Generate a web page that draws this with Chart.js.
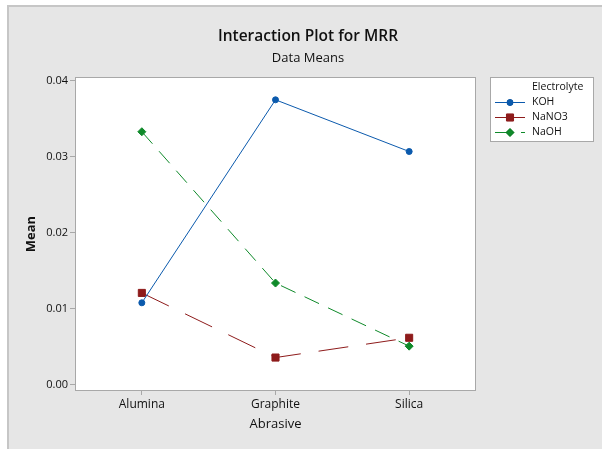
<!DOCTYPE html>
<html>
<head>
<meta charset="utf-8">
<script src="https://cdn.jsdelivr.net/npm/chart.js@4"></script>
<style>
    html, body { margin: 0; padding: 0; background: #fff; }
    #wrap { width: 602px; height: 449px; }
</style>
</head>
<body>
<div id="wrap"><canvas id="mrr-chart" width="602" height="449"></canvas></div>
<script>
// Data
const abrasives = ['Alumina', 'Graphite', 'Silica'];
const kohMeans = [0.0108, 0.0375, 0.0307];
const nano3Means = [0.0121, 0.0036, 0.0062];
const naohMeans = [0.0333, 0.0134, 0.0051];
const yTicks = [0.00, 0.01, 0.02, 0.03, 0.04];

const FONT = '"Open Sans", "DejaVu Sans", sans-serif';

const series = [
    { label: 'KOH', data: kohMeans, color: '#0b5aad', point: 'circle', radius: 3, dash: [] },
    { label: 'NaNO3', data: nano3Means, color: '#8e1b1b', point: 'rect', radius: 5, dash: [30, 18] },
    { label: 'NaOH', data: naohMeans, color: '#0f8a2a', point: 'rectRot', radius: 4, dash: [16, 10] },
];

// panel background, plot frame, titles and boxed legend
const minitabFrame = {
    id: 'minitabFrame',
    beforeDraw(chart) {
        const { ctx, chartArea: a } = chart;
        ctx.save();
        ctx.fillStyle = '#ffffff';
        ctx.fillRect(0, 0, chart.width, chart.height);
        ctx.fillStyle = '#e6e6e6';
        ctx.fillRect(7, 5, chart.width - 7, chart.height - 5);
        ctx.strokeStyle = '#c6c6c6';
        ctx.lineWidth = 2;
        ctx.beginPath();
        ctx.moveTo(8, chart.height);
        ctx.lineTo(8, 6);
        ctx.lineTo(chart.width, 6);
        ctx.stroke();
        ctx.fillStyle = '#ffffff';
        ctx.fillRect(a.left, a.top, a.right - a.left, a.bottom - a.top);
        ctx.restore();
    },
    afterDraw(chart) {
        const { ctx, chartArea: a } = chart;
        ctx.save();
        ctx.strokeStyle = '#a8a8a8';
        ctx.lineWidth = 1;
        ctx.strokeRect(a.left + 0.5, a.top + 0.5, a.right - a.left - 1, a.bottom - a.top - 1);

        ctx.fillStyle = '#111';
        ctx.textAlign = 'center';
        ctx.textBaseline = 'middle';
        ctx.font = '600 15.5px ' + FONT;
        ctx.fillText('Interaction Plot for MRR', 308, 37);
        ctx.font = '13px ' + FONT;
        ctx.fillText('Data Means', 308, 58);

        // legend box
        const lx = 490, ly = 77, lw = 104, lh = 65;
        ctx.fillStyle = '#ffffff';
        ctx.fillRect(lx, ly, lw, lh);
        ctx.strokeStyle = '#a8a8a8';
        ctx.strokeRect(lx + 0.5, ly + 0.5, lw - 1, lh - 1);
        ctx.fillStyle = '#111';
        ctx.textAlign = 'left';
        ctx.font = '10.5px ' + FONT;
        ctx.fillText('Electrolyte', 532, 87);
        chart.data.datasets.forEach((ds, i) => {
            const y = 102 + i * 15;
            ctx.strokeStyle = ds.borderColor;
            ctx.lineWidth = 1;
            ctx.setLineDash(ds.borderDash);
            ctx.beginPath();
            ctx.moveTo(495, y + 0.5);
            ctx.lineTo(525, y + 0.5);
            ctx.stroke();
            ctx.setLineDash([]);
            Chart.helpers.drawPoint(ctx, {
                pointStyle: ds.pointStyle, radius: ds.pointRadius, borderWidth: 1
            }, 510, y + 0.5);
            ctx.fillStyle = ds.borderColor;
            ctx.fill();
            ctx.fillStyle = '#111';
            ctx.fillText(ds.label, 532, y);
        });
        ctx.restore();
    }
};

new Chart(document.getElementById('mrr-chart'), {
    type: 'line',
    data: {
        labels: abrasives,
        datasets: series.map(s => ({
            label: s.label,
            data: s.data,
            borderColor: s.color,
            backgroundColor: s.color,
            borderWidth: 1,
            borderDash: s.dash,
            pointStyle: s.point,
            pointRadius: s.radius,
            pointBorderWidth: 1,
            tension: 0,
            fill: false,
        }))
    },
    options: {
        responsive: false,
        animation: false,
        layout: { padding: { left: 23, right: 126, top: 77, bottom: 17 } },
        scales: {
            x: {
                offset: true,
                grid: { drawOnChartArea: false, drawTicks: true, tickLength: 4, color: '#a8a8a8' },
                border: { display: false },
                ticks: { color: '#111', font: { family: FONT, size: 12 }, padding: 2 },
                title: { display: true, text: 'Abrasive', color: '#111', font: { family: FONT, size: 13 }, padding: 0 },
                afterFit: (scale) => { scale.height = 41; }
            },
            y: {
                min: -0.0008,
                max: 0.0405,
                afterBuildTicks: (scale) => { scale.ticks = yTicks.map(v => ({ value: v })); },
                grid: { drawOnChartArea: false, drawTicks: true, tickLength: 5, color: '#a8a8a8' },
                border: { display: false },
                ticks: { color: '#111', font: { family: FONT, size: 11 }, padding: 2,
                    callback: (v) => Number(v).toFixed(2) },
                title: { display: true, text: 'Mean', color: '#111', font: { family: FONT, size: 13, weight: 'bold' }, padding: 0 },
                afterFit: (scale) => { scale.width = 52; }
            }
        },
        plugins: {
            legend: { display: false },
            tooltip: { enabled: false }
        }
    },
    plugins: [minitabFrame]
});
</script>
</body>
</html>
